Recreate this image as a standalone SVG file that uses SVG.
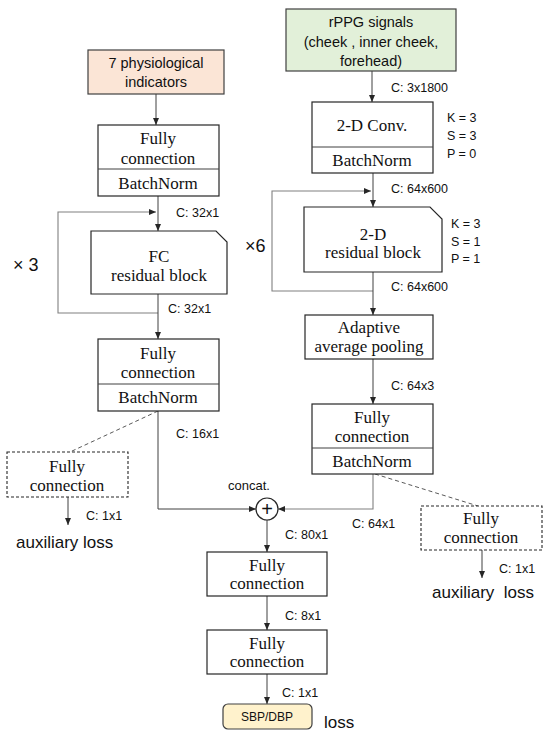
<svg xmlns="http://www.w3.org/2000/svg" width="550" height="737" viewBox="0 0 550 737">
<defs>
<marker id="ah" viewBox="0 0 7 6" refX="7" refY="3" markerWidth="7" markerHeight="6" markerUnits="userSpaceOnUse" orient="auto"><path d="M0,0 L7,3 L0,6 z" fill="#262626"/></marker>
<style>
.box{fill:#fff;stroke:#262626;stroke-width:1.2}
.dbox{fill:#fff;stroke:#262626;stroke-width:1.1;stroke-dasharray:3,2}
.ser{font-family:"Liberation Serif","Times New Roman",serif;font-size:17px;fill:#111;text-anchor:middle}
.sans{font-family:"Liberation Sans",Arial,sans-serif;font-size:14.5px;fill:#111;text-anchor:middle}
.lab{font-family:"Liberation Sans",Arial,sans-serif;font-size:12.5px;fill:#111}
.big{font-family:"Liberation Sans",Arial,sans-serif;font-size:17px;fill:#111}
.ln{fill:none;stroke:#404040;stroke-width:1}
.loop{fill:none;stroke:#808080;stroke-width:1.1}
.dash{fill:none;stroke:#595959;stroke-width:1;stroke-dasharray:4,3}
</style>
</defs>
<g id="connectors">
<line class="ln" x1="156" y1="94" x2="156" y2="125" marker-end="url(#ah)"/>
<line class="ln" x1="158" y1="196" x2="158" y2="231" marker-end="url(#ah)"/>
<path class="loop" d="M158,313 H58 V212 H156" marker-end="url(#ah)"/>
<line class="ln" x1="158" y1="294" x2="158" y2="339" marker-end="url(#ah)"/>
<line class="dash" x1="158" y1="411" x2="70" y2="452"/>
<line class="ln" x1="68" y1="497" x2="68" y2="525" marker-end="url(#ah)"/>
<path class="ln" d="M158,411 V509 H256" marker-end="url(#ah)"/>
<line class="ln" x1="372" y1="71" x2="372" y2="102" marker-end="url(#ah)"/>
<line class="ln" x1="373" y1="173" x2="373" y2="207" marker-end="url(#ah)"/>
<path class="loop" d="M373,291 H272 V191 H371" marker-end="url(#ah)"/>
<line class="ln" x1="373" y1="272" x2="373" y2="315" marker-end="url(#ah)"/>
<line class="ln" x1="373" y1="359" x2="373" y2="404" marker-end="url(#ah)"/>
<line class="dash" x1="375" y1="474" x2="478" y2="506"/>
<line class="ln" x1="482" y1="550" x2="482" y2="578" marker-end="url(#ah)"/>
<path class="loop" d="M373,474 V509 H278" marker-end="url(#ah)"/>
<line class="ln" x1="267" y1="520" x2="267" y2="552" marker-end="url(#ah)"/>
<line class="ln" x1="267" y1="596" x2="267" y2="630" marker-end="url(#ah)"/>
<line class="ln" x1="267" y1="674" x2="267" y2="704" marker-end="url(#ah)"/>
</g>
<g id="labels">
<text class="lab" x="176" y="217">C: 32x1</text>
<text class="lab" x="168" y="313">C: 32x1</text>
<text class="lab" x="176" y="438">C: 16x1</text>
<text class="lab" x="86" y="520">C: 1x1</text>
<text class="lab" x="391" y="92">C: 3x1800</text>
<text class="lab" x="391" y="193">C: 64x600</text>
<text class="lab" x="391" y="291">C: 64x600</text>
<text class="lab" x="391" y="390">C: 64x3</text>
<text class="lab" x="352" y="528">C: 64x1</text>
<text class="lab" x="499" y="573">C: 1x1</text>
<text class="lab" x="285" y="539">C: 80x1</text>
<text class="lab" x="285" y="620">C: 8x1</text>
<text class="lab" x="282" y="697">C: 1x1</text>
<text class="lab" x="228" y="490" style="font-size:13px">concat.</text>
<text class="lab" x="447" y="122">K = 3</text>
<text class="lab" x="447" y="140">S = 3</text>
<text class="lab" x="447" y="158">P = 0</text>
<text class="lab" x="451" y="228">K = 3</text>
<text class="lab" x="451" y="246">S = 1</text>
<text class="lab" x="451" y="263">P = 1</text>
<text class="big" x="13" y="271" style="font-size:18px">× 3</text>
<text class="big" x="245" y="252" style="font-size:18px">×6</text>
<text class="big" x="16" y="548">auxiliary loss</text>
<text class="big" x="432" y="598" style="white-space:pre">auxiliary  loss</text>
<text class="big" x="324" y="728">loss</text>
</g>
<g id="physio">
<rect x="88" y="50" width="136" height="44" fill="#FBE5D6" stroke="#404040" stroke-width="1.2"/>
<text class="sans" x="156" y="68">7 physiological</text>
<text class="sans" x="156" y="87">indicators</text>
</g>
<g id="fc1">
<rect class="box" x="98" y="125" width="121" height="71"/>
<line class="ln" x1="98" y1="169" x2="219" y2="169"/>
<text class="ser" x="158" y="144">Fully</text>
<text class="ser" x="158" y="164">connection</text>
<text class="ser" x="158" y="189">BatchNorm</text>
</g>
<g id="fcres">
<path class="box" d="M91,231 H216 L227,242 V294 H91 Z"/>
<text class="ser" x="159" y="262">FC</text>
<text class="ser" x="159" y="281">residual block</text>
</g>
<g id="fc2">
<rect class="box" x="98" y="339" width="121" height="72"/>
<line class="ln" x1="98" y1="384" x2="219" y2="384"/>
<text class="ser" x="158" y="359">Fully</text>
<text class="ser" x="158" y="378">connection</text>
<text class="ser" x="158" y="403">BatchNorm</text>
</g>
<g id="auxL">
<rect class="dbox" x="7" y="452" width="121" height="45"/>
<text class="ser" x="67" y="472">Fully</text>
<text class="ser" x="67" y="491">connection</text>
</g>
<g id="rppg">
<rect x="286" y="9" width="170" height="62" fill="#E2F0D9" stroke="#404040" stroke-width="1.2"/>
<text class="sans" x="371" y="27">rPPG signals</text>
<text class="sans" x="371" y="47">(cheek , inner cheek,</text>
<text class="sans" x="371" y="66">forehead)</text>
</g>
<g id="conv">
<rect class="box" x="312" y="102" width="121" height="71"/>
<line class="ln" x1="312" y1="147" x2="433" y2="147"/>
<text class="ser" x="372" y="131">2-D Conv.</text>
<text class="ser" x="372" y="166">BatchNorm</text>
</g>
<g id="res2d">
<path class="box" d="M304,207 H430 L442,219 V272 H304 Z"/>
<text class="ser" x="373" y="240">2-D</text>
<text class="ser" x="373" y="258">residual block</text>
</g>
<g id="pool">
<rect class="box" x="305" y="315" width="128" height="44"/>
<text class="ser" x="369" y="333">Adaptive</text>
<text class="ser" x="369" y="352">average pooling</text>
</g>
<g id="fcR">
<rect class="box" x="312" y="404" width="121" height="70"/>
<line class="ln" x1="312" y1="448" x2="433" y2="448"/>
<text class="ser" x="372" y="423">Fully</text>
<text class="ser" x="372" y="442">connection</text>
<text class="ser" x="372" y="467">BatchNorm</text>
</g>
<g id="auxR">
<rect class="dbox" x="421" y="506" width="121" height="44"/>
<text class="ser" x="481" y="524">Fully</text>
<text class="ser" x="481" y="543">connection</text>
</g>
<g id="concat">
<circle cx="267" cy="509" r="11" fill="#fff" stroke="#262626" stroke-width="1.2"/>
<text x="267" y="516" text-anchor="middle" font-family="Liberation Sans, Arial, sans-serif" font-size="20" fill="#111">+</text>
</g>
<g id="fc3">
<rect class="box" x="207" y="552" width="120" height="44"/>
<text class="ser" x="267" y="571">Fully</text>
<text class="ser" x="267" y="589">connection</text>
</g>
<g id="fc4">
<rect class="box" x="207" y="630" width="120" height="44"/>
<text class="ser" x="267" y="649">Fully</text>
<text class="ser" x="267" y="667">connection</text>
</g>
<g id="out">
<rect x="223" y="704" width="89" height="25" rx="5" fill="#FFF2CC" stroke="#404040" stroke-width="1.2"/>
<text x="267" y="721" text-anchor="middle" font-family="Liberation Sans, Arial, sans-serif" font-size="12" fill="#111">SBP/DBP</text>
</g>
</svg>
